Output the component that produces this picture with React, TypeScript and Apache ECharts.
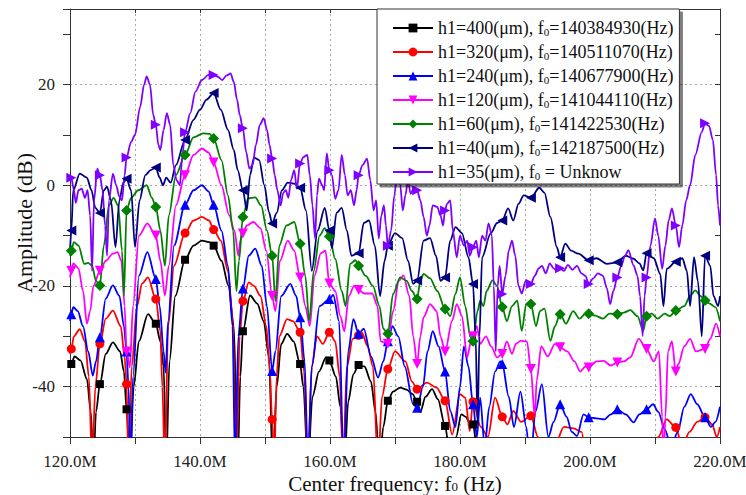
import React, { useEffect, useRef } from 'react';
import * as echarts from 'echarts';

const FONT = 'Liberation Serif';

// x positions (MHz) where every curve carries a marker symbol
const markerX = [120.2, 124.6, 128.7, 133.2, 137.7, 142.1, 146.6, 151.1, 155.4, 159.9, 164.4, 168.9, 173.4, 177.7, 182.0, 186.5, 190.9, 195.4, 199.8, 204.2, 208.7, 213.2, 217.7];

// h1 = 400 um
const blackX = [120.0, 120.7, 121.6, 122.6, 123.2, 123.6, 124.0, 125.5, 126.6, 127.7, 128.3, 129.2, 129.8, 130.6, 132.0, 133.9, 134.4, 134.8, 135.3, 136.2, 139.0, 140.3, 141.4, 143.3, 144.4, 145.2, 145.8, 146.2, 147.7, 148.8, 149.8, 150.6, 151.2, 151.8, 152.5, 153.4, 154.4, 155.9, 156.6, 157.3, 158.3, 159.4, 160.9, 161.6, 162.2, 162.8, 163.6, 165.3, 166.3, 167.0, 167.6, 168.2, 169.7, 170.8, 171.8, 172.7, 173.9, 174.7, 175.7, 176.6, 178.3, 178.8, 179.4, 180.2, 180.9, 181.4, 182.6, 183.2];
const blackY = [-36, -34, -34.8, -38.5, -45, -56, -45, -33.5, -31.2, -33, -37, -56, -40, -31, -25.6, -31, -36, -56, -35, -22, -12, -11, -11.3, -15, -20, -28, -56, -38, -21.9, -23.5, -27, -34, -56, -40, -31.5, -29.5, -31, -40, -56, -42, -37, -34.2, -38, -44, -56, -43, -37.5, -36, -39, -45, -56, -48, -41, -40.2, -40.6, -41.5, -45, -42, -40.5, -42.5, -52, -56, -50, -45.5, -46, -47, -52, -56];
const blackMarks = [-35.5, -39.5, -44.5, -27.5, -14.8, -12, -29, null, -35.5, -34.8, -35.7, -42.8, -43, -47.8, -47.5, null, null, null, null, null, null, null, null];

// h1 = 320 um
const redX = [120.0, 120.6, 121.5, 122.3, 122.9, 123.4, 123.9, 125.5, 126.6, 127.8, 128.4, 129.0, 129.5, 130.3, 131.1, 132.0, 133.9, 134.2, 134.6, 135.1, 136.0, 139.0, 140.3, 141.4, 143.2, 144.3, 145.0, 145.6, 146.1, 147.5, 148.3, 149.3, 150.2, 150.7, 151.4, 151.8, 152.2, 153.4, 154.3, 156.0, 156.6, 157.2, 158.0, 158.9, 160.8, 161.5, 162.0, 162.6, 163.5, 164.9, 165.8, 166.6, 167.4, 168.0, 170.0, 171.6, 172.6, 174.9, 176.4, 178.8, 180.0, 180.8, 181.5, 183.2, 184.3, 185.4, 187.3, 188.2, 189.4, 192.0, 193.0, 194.5, 196.0, 197.5, 198.7, 199.6, 201.0, 209.0, 210.5, 211.8, 214.2, 215.3, 216.5, 218.8, 219.5, 220.0];
const redY = [-33.5, -30, -28.6, -31, -38, -56, -40, -26.5, -24.9, -28, -34, -56, -36, -24, -19.5, -18.3, -29, -40, -56, -28, -16, -7, -6.3, -7, -11, -17, -26, -56, -30, -19.3, -20, -22, -28, -36, -56, -38, -30, -26.6, -27, -37, -56, -36, -30, -31.5, -31, -38, -56, -36, -30.5, -29.3, -32, -36, -56, -42, -33, -35, -39, -39.2, -40.2, -49.5, -41.5, -42.2, -48.8, -48, -50, -42.2, -47.5, -44.8, -47, -50, -56, -52, -48, -48.3, -49, -56, -58, -58, -50, -46.5, -52, -49, -47, -47.5, -50, -48];
const redMarks = [-32.5, -31.5, -39.5, -22.6, -9.5, -8.8, -23, -46.5, -29.2, -29.2, -29.8, -36.5, -40.5, -42.8, -43, -46, -45.8, null, null, null, null, -48.1, -46.1];

// h1 = 240 um
const blueX = [120.0, 120.5, 121.2, 122.0, 122.8, 123.5, 124.0, 125.5, 126.6, 127.6, 128.3, 129.0, 129.3, 129.7, 130.6, 131.9, 133.8, 134.4, 134.7, 135.1, 136.0, 139.0, 140.3, 141.3, 143.3, 144.3, 145.0, 145.4, 145.9, 147.5, 148.5, 149.5, 150.3, 151.6, 152.5, 153.9, 154.8, 156.1, 156.6, 157.2, 158.4, 160.5, 161.4, 162.1, 162.8, 163.6, 165.2, 166.3, 167.4, 168.2, 169.6, 170.5, 171.5, 172.8, 174.3, 175.0, 175.8, 176.7, 178.5, 179.3, 180.0, 180.6, 181.3, 182.6, 183.1, 183.8, 184.5, 185.4, 186.2, 187.5, 188.3, 189.3, 190.2, 190.8, 191.6, 192.6, 193.6, 194.4, 196.4, 197.2, 198.0, 199.0, 201.0, 202.2, 203.2, 205.5, 206.7, 207.6, 209.7, 210.5, 211.5, 212.5, 213.5, 214.5, 215.5, 216.5, 218.6, 219.3, 220.0];
const blueY = [-27, -24.2, -25, -28, -33, -37.8, -35, -22.5, -19.9, -22, -28, -40, -56, -38, -18, -13.3, -24, -33, -37.2, -27, -12, -1, 0, -1.2, -9, -16, -28, -56, -30, -14, -12.6, -16, -24, -33, -22, -19.6, -22, -35, -56, -36, -24, -21.8, -27, -56, -33, -26.6, -28.5, -34, -38.2, -35, -28, -30, -36, -43.5, -40, -33, -29, -32, -44.8, -48, -40, -32, -36, -50, -42.2, -52, -44, -37, -35, -42, -48, -41, -48, -56, -45, -39.5, -50, -47, -46, -49, -49.8, -45.5, -46.3, -46.5, -45.5, -45.5, -47.1, -45.5, -43.5, -45, -48.5, -52, -49, -44, -41.5, -43.5, -48, -47, -44];
const blueMarks = [-25.6, -30.2, -33, -18.6, -3.9, -3.9, -20.5, -36.9, -26.2, -22.6, -29.5, -31, -44.2, -37, -43.5, -35.5, null, -43.5, -46.1, -44.5, -44.5, null, -46.1];

// h1 = 120 um
const magentaX = [120.0, 120.5, 121.3, 122.0, 122.6, 123.1, 123.6, 125.5, 126.6, 127.3, 127.9, 128.4, 129.2, 129.7, 130.6, 131.9, 133.9, 134.6, 135.2, 136.3, 139.0, 140.3, 141.3, 143.3, 144.5, 145.3, 145.9, 146.2, 147.2, 148.2, 149.3, 150.2, 151.6, 152.3, 153.5, 154.5, 156.2, 156.9, 157.6, 158.6, 159.3, 160.8, 161.6, 162.2, 162.9, 163.7, 165.3, 166.5, 167.3, 167.8, 169.7, 170.6, 171.3, 172.2, 172.8, 173.9, 174.4, 175.4, 176.4, 177.0, 178.8, 179.5, 180.3, 181.1, 181.7, 182.6, 183.1, 184.0, 184.8, 185.7, 187.2, 188.0, 188.6, 189.3, 190.3, 191.5, 191.8, 192.5, 193.5, 194.6, 196.5, 197.6, 198.5, 199.3, 201.0, 202.1, 203.2, 205.2, 206.2, 207.5, 209.8, 210.6, 211.1, 211.3, 211.6, 212.0, 212.6, 213.6, 214.5, 215.4, 216.3, 218.5, 219.4, 220.0];
const magentaY = [-18.3, -15.5, -16.5, -21, -27.5, -25, -20, -15, -13.6, -13.3, -15, -24, -36.2, -24, -10, -7.6, -15, -21.9, -16, -4, 6, 7.3, 6.5, 0, -6, -9, -14, -11, -8, -7.3, -8.5, -13, -25, -15, -11, -13, -24, -28, -18, -13.5, -13, -21, -26, -29, -22, -20, -21.5, -21.5, -24, -31, -25, -19, -17.9, -22, -30, -30, -26.2, -23.6, -25, -30, -26.9, -23.6, -26, -34.2, -31, -28, -31.5, -30, -32, -34.2, -31, -33.5, -31.5, -30.9, -31, -46, -38.8, -32, -34, -31.5, -33, -35, -37, -36, -35, -34.9, -35.8, -35, -34.2, -30.5, -35, -33, -46, -56, -46, -33, -31, -35.5, -32, -30.5, -33, -30.5, -27.5, -30];
const magentaMarks = [-17, -17, -33, -10, 2, 4.5, -9.6, -22, -18.3, -19.5, -20.8, -31.5, -35.5, -33, -30, -33.5, -36.5, -32.2, -36.2, -35.2, -32.5, -37, -32.5];

// h1 = 60 um
const greenX = [120.0, 120.6, 121.3, 122.2, 122.8, 123.4, 124.0, 125.2, 126.0, 126.7, 127.4, 128.0, 128.3, 129.4, 130.5, 131.8, 132.6, 133.9, 134.6, 135.2, 136.3, 139.0, 140.5, 141.5, 143.3, 144.3, 145.1, 145.6, 146.0, 147.4, 148.5, 149.4, 150.3, 151.6, 152.2, 153.3, 154.5, 156.2, 156.8, 157.5, 158.4, 159.2, 160.8, 161.8, 162.4, 163.1, 163.9, 165.5, 166.6, 167.6, 168.2, 169.7, 170.8, 171.8, 172.6, 173.9, 174.4, 175.4, 176.5, 178.5, 179.3, 180.0, 180.8, 181.6, 182.7, 183.1, 183.6, 184.1, 185.0, 185.7, 187.2, 188.0, 188.8, 189.5, 190.2, 191.7, 192.3, 193.0, 193.9, 194.6, 196.3, 197.4, 198.4, 199.3, 200.8, 202.0, 203.0, 205.2, 206.2, 207.3, 208.2, 209.5, 210.4, 211.5, 212.3, 214.5, 215.4, 216.2, 217.0, 218.4, 219.3, 220.0];
const greenY = [-14, -11.3, -12, -15.6, -15.4, -16, -19, -12, -4, -2.5, -4, -13, -22, -2.5, -1, 0, -2.5, -9, -16, -6, 2, 9.5, 10.3, 10.2, 5, -2, -9, -21, -15, -2.6, -2.4, -4, -9, -23, -12, -8, -7.3, -18, -27, -17, -10, -8.5, -14.6, -21, -24, -15.6, -14.9, -18, -20, -24, -28.5, -21.6, -18.3, -19, -21, -19, -17.6, -18.5, -21, -26, -21.6, -18.3, -24, -30.2, -25, -22.9, -24, -21, -18.9, -20, -27, -24, -22.9, -28.9, -23.5, -28, -25, -24.5, -30.9, -28, -27.5, -25, -26.5, -25.5, -25.9, -26.5, -25.5, -25.3, -24.8, -26, -28.9, -25.5, -26.5, -25.5, -26, -24, -22, -20.9, -22, -23.5, -24.2, -27];
const greenMarks = [-13, -19.9, -5, -4.3, 6, 9.3, -6.3, -14, -11.6, -10.2, -16, -29.5, -22.6, -24.6, -31, -24.2, -23.6, -25.6, -25.5, -25.6, -26, -24.9, -22.9];

// h1 = 40 um
const navyX = [120.0, 120.5, 121.5, 122.6, 123.3, 123.9, 125.2, 125.7, 126.3, 127.0, 127.6, 128.2, 129.4, 130.0, 130.7, 131.6, 132.4, 133.8, 134.3, 134.8, 135.5, 136.3, 139.0, 140.0, 141.0, 143.2, 144.3, 145.2, 145.8, 147.2, 147.7, 148.3, 149.1, 149.9, 150.6, 151.8, 152.6, 153.5, 154.5, 156.3, 157.2, 158.1, 159.2, 160.3, 161.0, 161.8, 162.6, 163.3, 165.2, 166.0, 166.9, 167.7, 168.4, 170.0, 171.1, 172.0, 172.8, 174.4, 175.4, 176.3, 177.0, 178.5, 179.3, 180.3, 181.3, 182.4, 182.7, 183.0, 183.4, 184.7, 185.7, 187.4, 188.2, 189.0, 189.8, 192.2, 193.0, 193.9, 194.9, 196.2, 197.1, 198.2, 201.0, 202.6, 205.5, 206.7, 207.6, 208.2, 209.8, 210.8, 211.3, 211.8, 214.2, 214.9, 215.4, 216.0, 216.6, 217.2, 218.5, 219.0, 219.7, 220.0];
const navyY = [-13, -1, 2.3, 1.5, -1, -4.5, -1, -0.3, -3, -12.3, -3, 0.5, -1, -12.3, -3, 2, 3, 1.5, 0, 1.5, 0.5, 4, 13, 15, 17, 15, 11, 7, 3, -5, 2, 5.5, 5, 0, -5.3, -5.5, -1, 0.5, 0.3, -5, -17, -9, -4.5, -12.5, -5.5, -4.5, -9, -14, -7.5, -7, -12, -22, -15, -9.5, -10.5, -15, -19.6, -11, -10.5, -14, -19, -11, -8.3, -9.5, -14.3, -30, -47.5, -30, -14.3, -9.6, -7.5, -4.6, -7, -3.7, -2, -0.5, -1.5, -6.3, -12.3, -11.6, -13, -13.6, -14.5, -15.6, -14, -14.6, -15.5, -16.9, -14.5, -17.6, -24, -16.6, -14.5, -17, -24, -14.3, -19, -30, -16, -22, -24, -22];
const navyMarks = [-9, -5.5, 1.3, 3.5, 9, 18.3, -1, -7.6, -0.5, -9, -13.5, -12, -18.9, -18.3, -19.6, -7, -2.5, -14.3, -14.9, -15.3, -13.5, -15.2, -14];

// h1 = 35 um
const purpleX = [120.0, 120.6, 120.9, 121.3, 121.8, 122.3, 122.7, 123.1, 123.4, 123.7, 124.2, 125.0, 125.4, 125.7, 126.0, 126.6, 127.1, 127.6, 128.0, 128.4, 129.4, 130.0, 130.8, 131.4, 131.8, 132.3, 132.8, 133.6, 133.9, 134.4, 134.9, 135.4, 135.9, 136.4, 136.9, 137.3, 138.5, 139.3, 140.3, 141.3, 142.8, 143.4, 144.1, 144.7, 145.2, 145.7, 146.1, 147.1, 147.6, 148.1, 148.6, 149.2, 149.8, 150.3, 150.7, 151.5, 151.9, 152.4, 152.8, 153.2, 153.6, 154.0, 154.5, 154.9, 155.9, 156.5, 156.9, 157.3, 157.7, 158.0, 158.3, 158.8, 159.1, 159.5, 160.3, 160.8, 161.3, 161.8, 162.3, 162.7, 163.2, 163.7, 164.1, 165.0, 165.7, 166.2, 166.7, 167.1, 167.5, 167.9, 168.3, 168.6, 169.4, 169.9, 170.4, 170.8, 171.2, 171.6, 172.0, 172.4, 172.9, 173.9, 174.4, 174.9, 175.3, 175.8, 176.5, 177.0, 177.4, 178.0, 178.5, 178.9, 179.5, 180.0, 180.6, 181.1, 181.5, 182.5, 182.9, 183.4, 183.9, 184.4, 184.9, 185.2, 185.5, 185.8, 186.1, 187.0, 187.5, 188.0, 188.5, 189.0, 189.5, 190.1, 191.5, 192.1, 192.6, 193.2, 193.8, 194.4, 194.9, 196.0, 196.6, 197.3, 198.0, 198.7, 199.3, 200.5, 201.2, 202.0, 202.6, 203.1, 203.6, 204.8, 205.4, 205.9, 206.7, 207.3, 207.7, 208.1, 208.4, 209.3, 210.0, 210.5, 211.1, 211.6, 212.1, 212.6, 213.7, 214.2, 214.8, 215.4, 216.2, 217.2, 218.3, 218.9, 219.4, 219.7, 220.0];
const purpleY = [1.5, -1, -3.5, -1, -0.7, -2.5, -1, -6, -17, -3, 3.3, -1, -8, -14, -3, 2.3, 0, -2.3, -3, 2, 8.6, 10, 15.6, 20, 21.6, 20, 14, 8, 7, 11, 14.3, 12, 4, 1, 0, 6, 14.3, 18.6, 20.9, 21.9, 21.5, 20.9, 21.8, 22.2, 20.5, 17, 14, 6.6, 3.3, 4, 8, 12, 13.3, 11, 8, 2, -1, -4, -1.5, -1, -2.5, 1, 3, -0.7, 5.6, 6, 2, -4, -10.6, -2, 1.3, 0, -1, 6.3, 2, -2.7, -1, 6, 2, -2, -1, -4, -1, 4, 5.3, 1, -5, -3, -10.6, -6, -4, -8, -9, -2, 3.5, 0, -5, -2, 1, -1.7, -0.5, -3, -6.3, -10, -8, -4, -4.3, -6, -8, -3.7, -3, -9, -14.3, -10, -12, -11, -14, -11, -14.3, -10, -11, -7.6, -10, -20, -33, -20, -16, -18, -13, -11, -14, -20, -21.5, -19, -18, -16.5, -16, -17.5, -15.5, -16.5, -17, -17, -15.8, -16.8, -16, -17.5, -18, -18.5, -17.5, -18, -20.5, -23.6, -21, -16, -14, -12.9, -15.9, -18, -22, -29.9, -22, -12, -6.6, -10, -16.6, -12, -7, -4.6, -12.3, -8, -3, 0, 6, 10.6, 11.8, 9, 2, -4, -8];
const purpleMarks = [1.5, 2, 5.5, 12, 10.5, 21.9, 11.3, 5.3, 4.3, 3, 2, -12, -1, -5, -12.3, -21.6, -19.6, -16.5, -19.6, -18.3, -18.3, -8, 12.3];

const xTicks = { min: 120, max: 220, step: 10, labelStep: 20 };
const yTicks = { min: -50, max: 35, step: 10, labelStep: 20 };

type Spec = {
  name: string; color: string; symbol: string; rotate: number; size: number;
  xs: number[]; ys: number[]; marks: (number | null)[];
};

const specs: Spec[] = [
  { name: 'h1=400(μm), f0=140384930(Hz)', color: '#000000', symbol: 'rect', rotate: 0, size: 8, xs: blackX, ys: blackY, marks: blackMarks },
  { name: 'h1=320(μm), f0=140511070(Hz)', color: '#ff0000', symbol: 'circle', rotate: 0, size: 9, xs: redX, ys: redY, marks: redMarks },
  { name: 'h1=240(μm), f0=140677900(Hz)', color: '#0000ff', symbol: 'triangle', rotate: 0, size: 10, xs: blueX, ys: blueY, marks: blueMarks },
  { name: 'h1=120(μm), f0=141044110(Hz)', color: '#ff00ff', symbol: 'triangle', rotate: 180, size: 10, xs: magentaX, ys: magentaY, marks: magentaMarks },
  { name: 'h1=60(μm), f0=141422530(Hz)', color: '#008000', symbol: 'diamond', rotate: 0, size: 11, xs: greenX, ys: greenY, marks: greenMarks },
  { name: 'h1=40(μm), f0=142187500(Hz)', color: '#000080', symbol: 'triangle', rotate: 90, size: 10, xs: navyX, ys: navyY, marks: navyMarks },
  { name: 'h1=35(μm), f0 = Unknow', color: '#8000ff', symbol: 'triangle', rotate: -90, size: 10, xs: purpleX, ys: purpleY, marks: purpleMarks },
];

function buildData(xs: number[], ys: number[], marks: (number | null)[]) {
  const pts: { x: number; y: number; m: boolean }[] = [];
  xs.forEach((x, i) => {
    const clash = markerX.some((mx, j) => marks[j] !== null && Math.abs(mx - x) < 0.05);
    if (!clash) pts.push({ x, y: ys[i], m: false });
  });
  markerX.forEach((x, j) => {
    const v = marks[j];
    if (v !== null) pts.push({ x, y: v, m: true });
  });
  pts.sort((a, b) => a.x - b.x);
  return pts.map((p) => (p.m ? { value: [p.x, p.y] } : { value: [p.x, p.y], symbol: 'none' }));
}

export default function App() {
  const ref = useRef<HTMLDivElement>(null);
  useEffect(() => {
    if (!ref.current) return;
    const chart = echarts.init(ref.current, undefined, { renderer: 'svg' });
    const axisColor = '#333';
    const gridColor = '#a8a8a8';
    const option: any = {
      animation: false,
      backgroundColor: '#ffffff',
      textStyle: { fontFamily: FONT },
      grid: { left: 70, right: 26, top: 9, bottom: 58, containLabel: false, outerBoundsMode: 'none' },
      legend: {
        orient: 'vertical',
        left: 377,
        top: 9,
        padding: [10, 6, 3, 15],
        itemWidth: 40,
        itemHeight: 11,
        itemGap: 6,
        backgroundColor: '#ffffff',
        borderColor: '#333',
        borderWidth: 1,
        borderRadius: 0,
        shadowColor: 'rgba(0,0,0,0.5)',
        shadowBlur: 1,
        shadowOffsetX: 3,
        shadowOffsetY: 3,
        selectedMode: false,
        data: specs.map((s) => s.name),
        formatter: (name: string) => name.replace('f0', 'f{s|0}'),
        textStyle: {
          fontFamily: FONT,
          fontSize: 18,
          color: '#111',
          lineHeight: 18,
          rich: { s: { fontFamily: FONT, fontSize: 11, color: '#111', verticalAlign: 'bottom', lineHeight: 18 } },
        },
      },
      xAxis: [
        {
          type: 'value', min: xTicks.min, max: xTicks.max, interval: xTicks.step, position: 'bottom',
          axisLine: { show: true, onZero: false, lineStyle: { color: axisColor, width: 1 } },
          axisTick: { show: true, inside: false, length: 7, lineStyle: { color: axisColor } },
          axisLabel: {
            formatter: (v: number) => (v % xTicks.labelStep === 0 ? v.toFixed(1) + 'M' : ''),
            margin: 17, fontSize: 17, lineHeight: 14, fontFamily: FONT, color: '#222', hideOverlap: false,
          },
          splitLine: { show: true, lineStyle: { color: gridColor, type: [2, 3], width: 1 } },
          name: 'Center frequency: f{s|0} (Hz)', nameLocation: 'middle', nameGap: 38, nameMoveOverlap: false,
          nameTextStyle: {
            fontFamily: FONT, fontSize: 21, color: '#111', lineHeight: 18,
            rich: { s: { fontFamily: FONT, fontSize: 13, color: '#111', verticalAlign: 'bottom', lineHeight: 18 } },
          },
        },
        {
          type: 'value', min: xTicks.min, max: xTicks.max, interval: xTicks.step, position: 'top',
          axisLine: { show: true, onZero: false, lineStyle: { color: axisColor, width: 1 } },
          axisTick: { show: true, inside: true, length: 4, lineStyle: { color: axisColor } },
          axisLabel: { show: false },
          splitLine: { show: false },
        },
      ],
      yAxis: [
        {
          type: 'value', min: yTicks.min, max: yTicks.max, interval: yTicks.step, position: 'left',
          axisLine: { show: true, onZero: false, lineStyle: { color: axisColor, width: 1 } },
          axisTick: { show: true, inside: false, length: 7, lineStyle: { color: axisColor } },
          axisLabel: {
            formatter: (v: number) => (v % yTicks.labelStep === 0 ? String(v) : ''),
            margin: 15, fontSize: 17, fontFamily: FONT, color: '#222',
          },
          splitLine: { show: true, lineStyle: { color: ['rgba(0,0,0,0)', gridColor], type: [2, 3], width: 1 } },
          name: 'Amplitude (dB)', nameLocation: 'middle', nameGap: 35, nameMoveOverlap: false,
          nameTextStyle: { fontFamily: FONT, fontSize: 22, color: '#111' },
        },
        {
          type: 'value', min: yTicks.min, max: yTicks.max, interval: yTicks.step, position: 'right',
          axisLine: { show: true, onZero: false, lineStyle: { color: axisColor, width: 1 } },
          axisTick: { show: true, inside: true, length: 5, lineStyle: { color: axisColor } },
          axisLabel: { show: false },
          splitLine: { show: false },
        },
      ],
      series: specs.map((s) => ({
        type: 'line',
        name: s.name,
        xAxisIndex: 0,
        yAxisIndex: 0,
        data: buildData(s.xs, s.ys, s.marks),
        smooth: 0.3,
        smoothMonotone: 'x',
        clip: true,
        showSymbol: true,
        symbol: s.symbol,
        symbolRotate: s.rotate,
        symbolSize: s.size,
        color: s.color,
        itemStyle: { color: s.color, borderWidth: 0 },
        lineStyle: { color: s.color, width: 1.8 },
        emphasis: { disabled: true },
        silent: true,
      })),
    };
    chart.setOption(option);
    return () => chart.dispose();
  }, []);
  return <div ref={ref} style={{ position: 'fixed', left: 0, top: 0, width: 746, height: 495, background: '#fff' }} />;
}
